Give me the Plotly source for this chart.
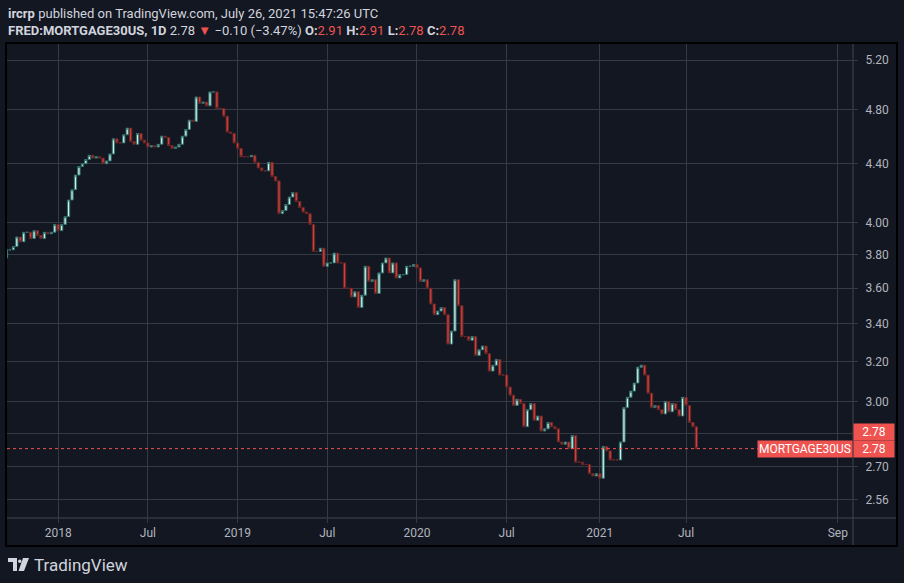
import numpy as np
import pandas as pd
import plotly.graph_objects as go

# FRED:MORTGAGE30US weekly values, first bar 2017-09-21, last bar 2021-07-22
start_date = "2017-09-21"
first_open = 3.78
closes = [
    # 2017
    3.83, 3.83, 3.85, 3.91, 3.88, 3.94, 3.94, 3.90, 3.95, 3.92, 3.90, 3.94, 3.93, 3.94, 3.99,
    # 2018
    3.95, 3.99, 4.04, 4.15, 4.22, 4.32, 4.38, 4.40, 4.43, 4.46, 4.44, 4.45, 4.44,
    4.40, 4.42, 4.47, 4.58, 4.55, 4.55, 4.61, 4.66, 4.56, 4.54, 4.62, 4.57, 4.55,
    4.52, 4.53, 4.52, 4.54, 4.60, 4.59, 4.53, 4.51, 4.52, 4.54, 4.60, 4.65, 4.72,
    4.71, 4.90, 4.85, 4.86, 4.83, 4.94, 4.94, 4.81, 4.81, 4.75, 4.63, 4.62, 4.55,
    # 2019
    4.51, 4.45, 4.45, 4.45, 4.46, 4.41, 4.37, 4.35, 4.35, 4.41, 4.31, 4.28, 4.06,
    4.08, 4.12, 4.17, 4.20, 4.14, 4.10, 4.07, 4.06, 3.99, 3.82, 3.82, 3.84, 3.73,
    3.75, 3.75, 3.81, 3.75, 3.75, 3.60, 3.60, 3.55, 3.58, 3.49, 3.56, 3.73, 3.64,
    3.65, 3.57, 3.69, 3.75, 3.78, 3.69, 3.75, 3.66, 3.68, 3.68, 3.73, 3.73, 3.74,
    # 2020
    3.72, 3.64, 3.65, 3.60, 3.51, 3.45, 3.47, 3.49, 3.45, 3.29, 3.36, 3.65, 3.50,
    3.33, 3.33, 3.31, 3.33, 3.23, 3.26, 3.28, 3.24, 3.15, 3.18, 3.21, 3.13, 3.13,
    3.07, 3.03, 2.98, 3.01, 2.99, 2.88, 2.96, 2.99, 2.91, 2.93, 2.86, 2.87, 2.90,
    2.88, 2.87, 2.81, 2.80, 2.81, 2.78, 2.84, 2.72, 2.72, 2.71, 2.71, 2.67, 2.66, 2.67,
    # 2021
    2.65, 2.79, 2.77, 2.73, 2.73, 2.73, 2.81, 2.97, 3.02, 3.05, 3.09, 3.17,
    3.18, 3.13, 3.04, 2.97, 2.98, 2.96, 2.94, 3.00, 2.95, 2.99, 2.96, 2.93, 3.02,
    2.98, 2.90, 2.88, 2.78,
]

tick_dates = ["2018-01-01", "2018-07-01", "2019-01-01", "2019-07-01", "2020-01-01",
              "2020-07-01", "2021-01-01", "2021-07-01", "2021-09-01"]
tick_labels = ["2018", "Jul", "2019", "Jul", "2020", "Jul", "2021", "Jul", "Sep"]
price_ticks = [2.56, 2.70, 2.85, 3.00, 3.20, 3.40, 3.60, 3.80, 4.00, 4.40, 4.80, 5.20]
hidden_ticks = [2.85]  # sits under the price labels in the reference
last_price = 2.78

dates = pd.date_range(start_date, periods=len(closes), freq="7D")
opens = [first_open] + closes[:-1]
highs = np.maximum(opens, closes)
lows = np.minimum(opens, closes)
bars = np.arange(len(closes))

# TradingView puts period labels on the first bar of the period,
# and counts future space in 1D bars
tick_pos = []
for d in pd.to_datetime(tick_dates):
    if d <= dates[-1]:
        tick_pos.append(int(np.argmax(dates >= d)))
    else:
        tick_pos.append(int(bars[-1]) + (d - dates[-1]).days)

W, H = 904, 583
L, R, T, B = 7, 51, 43, 65


def px(x):
    return (x - L) / (W - L - R)


def py(y):
    return (H - B - y) / (H - T - B)


BG = "#131722"
GRID = "#363a45"
TXT = "#d1d4dc"
AX = "#b2b5be"
RED = "#ef5350"

fig = go.Figure()
fig.add_trace(go.Candlestick(
    x=bars, open=opens, high=highs, low=lows, close=closes,
    increasing=dict(fillcolor="#cdeeea", line=dict(color="#2f716c", width=1)),
    decreasing=dict(fillcolor="#cf403c", line=dict(color="#6a2626", width=1)),
    whiskerwidth=0, hoverinfo="skip", showlegend=False,
))

x_range = [0.15, 245.4]
fig.add_trace(go.Scatter(
    x=x_range, y=[last_price, last_price], mode="lines",
    line=dict(color=RED, width=1, dash="dot"), hoverinfo="skip", showlegend=False,
))

fig.update_layout(
    width=W, height=H,
    margin=dict(l=L, r=R, t=T, b=B),
    paper_bgcolor=BG, plot_bgcolor=BG,
    font=dict(family="Roboto", size=12, color=AX),
    boxgap=0.05,
    xaxis=dict(
        range=x_range, rangeslider=dict(visible=False),
        tickmode="array", tickvals=tick_pos, ticktext=tick_labels,
        showgrid=True, gridcolor=GRID, gridwidth=1, zeroline=False,
        ticks="outside", ticklen=4, tickcolor=GRID, showline=False,
        tickfont=dict(size=12, color=AX),
    ),
    yaxis=dict(
        type="log", side="right",
        range=[np.log10(2.486), np.log10(5.345)],
        tickmode="array", tickvals=price_ticks,
        ticktext=["" if v in hidden_ticks else f"{v:.2f}" for v in price_ticks],
        showgrid=True, gridcolor=GRID, gridwidth=1, zeroline=False,
        ticks="outside", ticklen=4, tickcolor=GRID, showline=False,
        tickfont=dict(size=12, color=AX), ticklabelstandoff=5,
    ),
)

line_col = "#434651"
shapes = [
    dict(type="line", xref="paper", yref="paper", x0=px(7), x1=px(897), y0=py(518), y1=py(518),
         line=dict(color=line_col, width=1)),
    dict(type="line", xref="paper", yref="paper", x0=px(853), x1=px(853), y0=py(43), y1=py(546),
         line=dict(color=line_col, width=1)),
    dict(type="rect", xref="paper", yref="paper", x0=px(6), x1=px(897), y0=py(546), y1=py(43),
         line=dict(color="#000000", width=2)),
    # TradingView logo
    dict(type="rect", xref="paper", yref="paper", x0=px(8), x1=px(17), y0=py(562), y1=py(558),
         fillcolor=TXT, line=dict(width=0)),
    dict(type="rect", xref="paper", yref="paper", x0=px(13), x1=px(17), y0=py(571), y1=py(558),
         fillcolor=TXT, line=dict(width=0)),
    dict(type="circle", xref="paper", yref="paper", x0=px(18), x1=px(21.5), y0=py(563), y1=py(559.5),
         fillcolor=TXT, line=dict(width=0)),
    dict(type="path", xref="paper", yref="paper",
         path=f"M {px(23)} {py(558)} L {px(29)} {py(558)} L {px(24)} {py(571)} L {px(18.5)} {py(571)} Z",
         fillcolor=TXT, line=dict(width=0)),
]
fig.update_layout(shapes=shapes)

ann = [
    dict(xref="paper", yref="paper", x=px(6), y=py(13), xanchor="left", yanchor="middle",
         text="<b>ircrp</b> published on TradingView.com, July 26, 2021 15:47:26 UTC",
         showarrow=False, font=dict(size=13, color=TXT)),
    dict(xref="paper", yref="paper", x=px(6), y=py(31), xanchor="left", yanchor="middle",
         text=("<b>FRED:MORTGAGE30US, 1D</b> 2.78 "
               f"<span style='color:{RED}'>▼</span> −0.10 (−3.47%) "
               f"<b>O:</b><span style='color:{RED}'>2.91</span> "
               f"<b>H:</b><span style='color:{RED}'>2.91</span> "
               f"<b>L:</b><span style='color:{RED}'>2.78</span> "
               f"<b>C:</b><span style='color:{RED}'>2.78</span>"),
         showarrow=False, font=dict(size=13, color=TXT)),
    dict(xref="paper", yref="paper", x=px(32), y=py(565), xanchor="left", yanchor="middle",
         text="TradingView", showarrow=False, font=dict(size=17, color=TXT)),
    dict(xref="paper", yref="y", x=1, y=np.log10(last_price), xanchor="right", yanchor="middle",
         text="MORTGAGE30US", showarrow=False, bgcolor=RED, borderpad=1,
         font=dict(size=12, color="#ffffff")),
    dict(xref="paper", yref="y", x=1, y=np.log10(last_price), xanchor="left", yanchor="middle",
         text="2.78", showarrow=False, bgcolor=RED, borderpad=1, width=38,
         font=dict(size=12, color="#ffffff")),
    dict(xref="paper", yref="y", x=1, y=np.log10(last_price), yshift=17,
         xanchor="left", yanchor="middle",
         text="2.78", showarrow=False, bgcolor=RED, borderpad=1, width=38,
         font=dict(size=12, color="#ffffff")),
]
fig.update_layout(annotations=ann)

fig.write_html("out.html", config={"displayModeBar": False},
               post_script="document.body.style.margin='0';")
